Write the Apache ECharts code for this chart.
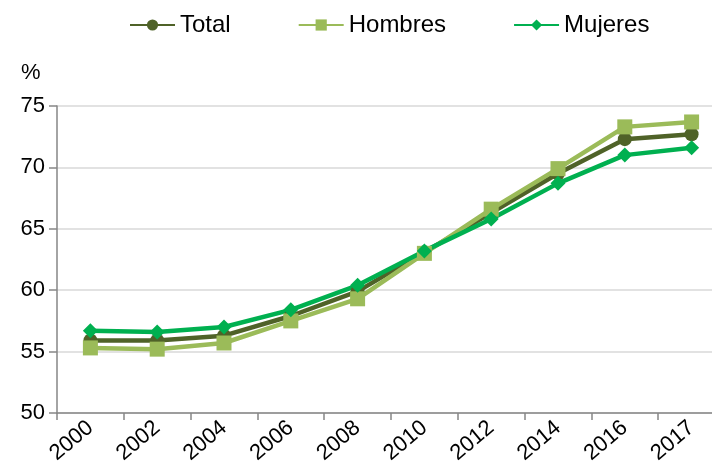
<!DOCTYPE html>
<html>
<head>
<meta charset="utf-8">
<script src="https://cdn.jsdelivr.net/npm/echarts@6/dist/echarts.min.js"></script>
<style>
  html, body { margin: 0; padding: 0; background: #fff; overflow: hidden; }
  /* the plot runs past the right edge of the picture, so the canvas is a bit wider */
  #chart { width: 725px; height: 468px; }
</style>
</head>
<body>
<div id="chart"></div>
<script>
// años
const years = ['2000', '2002', '2004', '2006', '2008', '2010', '2012', '2014', '2016', '2017']
// series (%)
const total = [55.9, 55.9, 56.3, 57.9, 59.9, 63.1, 66.3, 69.5, 72.3, 72.7]
const hombres = [55.3, 55.2, 55.7, 57.5, 59.3, 63.0, 66.6, 69.9, 73.3, 73.7]
const mujeres = [56.7, 56.6, 57.0, 58.4, 60.4, 63.2, 65.8, 68.7, 71.0, 71.6]

const chart = echarts.init(document.getElementById('chart'))

function lineSeries(name, data, color, symbol, size) {
  return {
    name: name,
    type: 'line',
    data: data,
    symbol: symbol,
    symbolSize: size,
    lineStyle: { color: color, width: 4.5 },
    itemStyle: { color: color },
    animation: false
  }
}

chart.setOption({
  legend: {
    top: 8,
    left: 124,
    itemWidth: 45,
    itemHeight: 14,
    itemGap: 67,
    textStyle: { fontFamily: 'Liberation Sans', fontSize: 24, color: '#000' },
    data: ['Total', 'Hombres', 'Mujeres']
  },
  graphic: [{
    type: 'text',
    left: 21,
    top: 62,
    style: { text: '%', font: '22px "Liberation Sans"', fill: '#000' }
  }],
  grid: { left: 57, right: 0, top: 106, bottom: 55, containLabel: false },
  xAxis: {
    type: 'category',
    data: years,
    boundaryGap: true,
    axisLine: { lineStyle: { color: '#868686', width: 1.5 } },
    axisTick: { show: true, length: 7, lineStyle: { color: '#868686', width: 1.5 } },
    axisLabel: {
      rotate: 40,
      fontFamily: 'Liberation Sans',
      fontSize: 22,
      color: '#000',
      margin: 12
    }
  },
  yAxis: {
    type: 'value',
    min: 50,
    max: 75,
    interval: 5,
    axisLine: { show: true, lineStyle: { color: '#868686', width: 1.5 } },
    axisTick: { show: true, length: 8, lineStyle: { color: '#868686', width: 1.5 } },
    splitLine: { lineStyle: { color: '#d9d9d9', width: 1.5 } },
    axisLabel: { fontFamily: 'Liberation Sans', fontSize: 22, color: '#000', margin: 12 }
  },
  series: [
    lineSeries('Total', total, '#4f6228', 'circle', 14),
    lineSeries('Hombres', hombres, '#9bbb59', 'rect', 15),
    lineSeries('Mujeres', mujeres, '#00b050', 'diamond', 15)
  ]
})
</script>
</body>
</html>
